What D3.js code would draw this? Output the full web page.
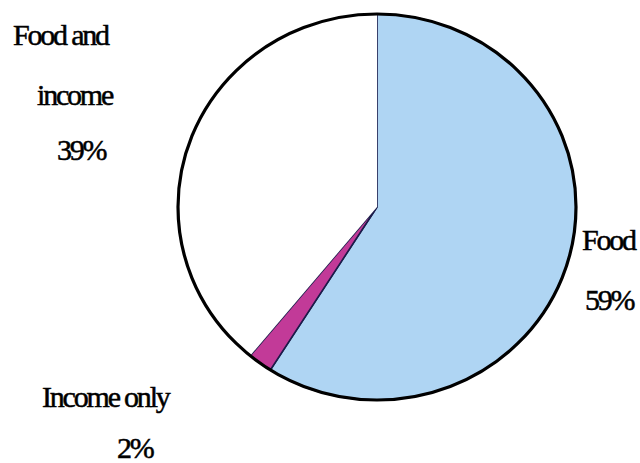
<!DOCTYPE html>
<html>
<head>
<meta charset="utf-8">
<script src="https://cdn.jsdelivr.net/npm/d3@7"></script>
<style>
  html, body { margin: 0; padding: 0; background: #fff; }
  svg { display: block; }
</style>
</head>
<body>
<svg id="chart" width="640" height="463"></svg>
<script>
// Share of households by type of support
const categories = ["Food", "Income only", "Food and income"];
const shares = [59, 2, 39];
const colors = ["#afd5f3", "#c23a98", "#ffffff"];

// Label lines for each category (name lines, then the percentage)
const labelLines = [
  ["Food"],
  ["Income only"],
  ["Food and", "income"]
];
const labelPos = [
  { lines: [[582, 250]], pct: [585, 310] },
  { lines: [[42, 407]], pct: [117, 458] },
  { lines: [[13, 45], [37, 105]], pct: [57, 160] }
];

const svg = d3.select("#chart");
const cx = 377, cy = 207, rx = 199, ry = 193;

const pie = d3.pie().sort(null).value(d => d)(shares);
const arc = d3.arc().innerRadius(0).outerRadius(rx);

const g = svg.append("g")
  .attr("transform", `translate(${cx},${cy}) scale(1,${ry / rx})`);

g.selectAll("path.slice")
  .data(pie)
  .join("path")
  .attr("class", "slice")
  .attr("d", arc)
  .attr("fill", (d, i) => colors[i])
  .attr("stroke", (d, i) => i === 2 ? "none" : "#1c1c4a")
  .attr("stroke-width", 1.6)
  .attr("vector-effect", "non-scaling-stroke");

// Outer rim
g.append("circle")
  .attr("r", rx)
  .attr("fill", "none")
  .attr("stroke", "#000")
  .attr("stroke-width", 3.2)
  .attr("vector-effect", "non-scaling-stroke");

// Labels
const label = (x, y, t) => svg.append("text")
  .attr("x", x).attr("y", y)
  .attr("font-family", "'Liberation Serif', 'Times New Roman', Times, serif")
  .attr("font-size", 30)
  .attr("letter-spacing", -2.2)
  .attr("fill", "#000")
  .attr("stroke", "#000")
  .attr("stroke-width", 0.5)
  .text(t);

categories.forEach((c, i) => {
  labelLines[i].forEach((t, j) => label(labelPos[i].lines[j][0], labelPos[i].lines[j][1], t));
  label(labelPos[i].pct[0], labelPos[i].pct[1], shares[i] + "%");
});
</script>
</body>
</html>
